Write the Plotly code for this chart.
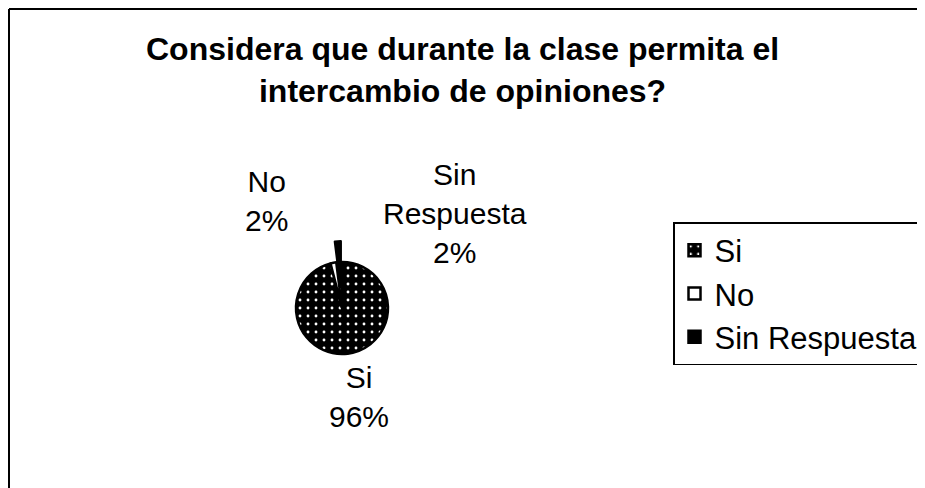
import plotly.graph_objects as go

labels = ["Si", "No", "Sin Respuesta"]
values = [96, 2, 2]
colors = ["black", "white", "black"]
pulls = [0, 0, 0.45]
title_text = "Considera que durante la clase permita el<br>intercambio de opiniones?"

W, H = 925, 488
FONT = "Arial, Liberation Sans, sans-serif"
OFF = 8  # page body margin

def px(x):
    return (x - OFF) / W

def py(y):
    return 1 - (y - OFF) / H

# pie geometry (reference page pixels)
cx, cy, r = 342, 308, 46
half = r * (1 + max(pulls))
dom_x = [px(cx - half), px(cx + half)]
dom_y = [py(cy + half), py(cy - half)]

fig = go.Figure()
fig.add_trace(go.Pie(
    labels=labels,
    values=values,
    sort=False,
    direction="clockwise",
    rotation=0,
    pull=pulls,
    textinfo="none",
    hoverinfo="label+percent",
    marker=dict(
        colors=colors,
        line=dict(color="black", width=2.5),
        pattern=dict(shape=[".", "", ""], fgcolor="white", bgcolor="black",
                     size=8, solidity=0.1),
    ),
    domain=dict(x=dom_x, y=dom_y),
))

total = sum(values)
pct = [round(v * 100 / total) for v in values]
label_pos = {"Si": (359, 397), "No": (266, 201), "Sin Respuesta": (455, 213)}
for lab, p in zip(labels, pct):
    x, y = label_pos[lab]
    fig.add_annotation(
        text=lab.replace(" ", "<br>") + "<br>" + f"{p}%",
        x=px(x), y=py(y), xref="paper", yref="paper",
        showarrow=False, xanchor="center", yanchor="middle",
        font=dict(family=FONT, size=30, color="black"),
    )

# title
fig.add_annotation(
    text="<b>" + title_text + "</b>",
    x=px(462), y=py(70), xref="paper", yref="paper",
    showarrow=False, xanchor="center", yanchor="middle",
    font=dict(family=FONT, size=32, color="black"),
)

# chart frame (left and top edges visible)
fig.add_shape(type="line", xref="paper", yref="paper",
              x0=1 / W, x1=1 / W, y0=0, y1=1 - 1 / H,
              line=dict(color="black", width=2))
fig.add_shape(type="line", xref="paper", yref="paper",
              x0=1 / W, x1=1, y0=1 - 1 / H, y1=1 - 1 / H,
              line=dict(color="black", width=2))

fig.update_layout(
    width=W, height=H,
    margin=dict(l=0, r=0, t=0, b=0, autoexpand=False),
    paper_bgcolor="white",
    plot_bgcolor="white",
    legend=dict(
        x=px(673), xanchor="left", y=py(222), yanchor="top",
        bordercolor="black", borderwidth=1.5,
        font=dict(family=FONT, size=31, color="black"),
        bgcolor="white",
    ),
    showlegend=True,
)

fig.write_html("out.html")
